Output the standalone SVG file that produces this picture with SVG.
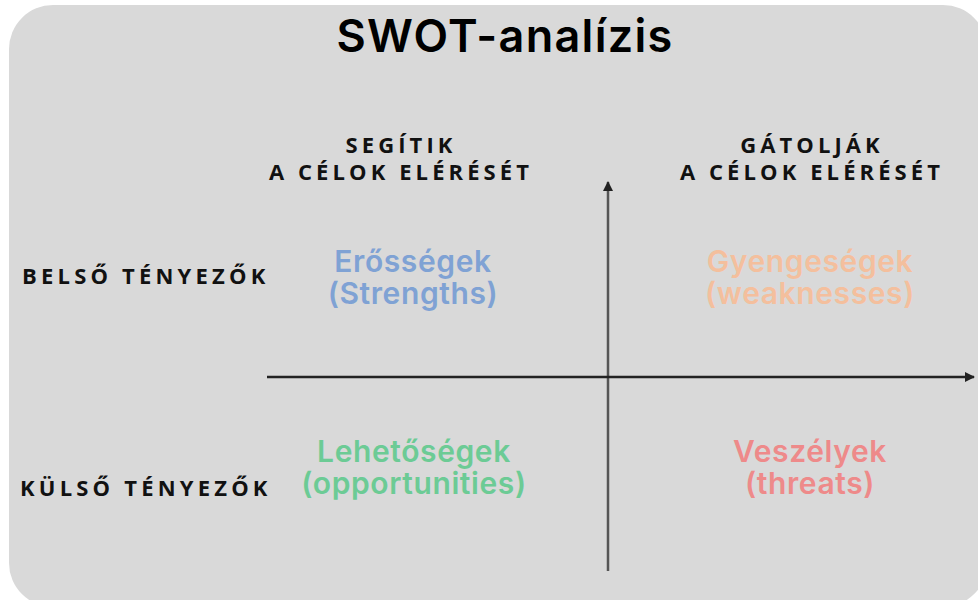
<svg xmlns="http://www.w3.org/2000/svg" width="978" height="600" viewBox="0 0 978 600">
<style>
.title{font-family:Inter,"Open Sans",sans-serif;font-weight:600;font-size:45px;letter-spacing:1.3px;fill:#000;text-anchor:middle}
.hdr{font-family:"Open Sans","DejaVu Sans",sans-serif;font-weight:700;font-size:22px;letter-spacing:4.1px;fill:#111;text-anchor:middle}
.row{font-family:"Open Sans","DejaVu Sans",sans-serif;font-weight:700;font-size:22px;letter-spacing:4.2px;fill:#111}
.q{font-family:Inter,"Open Sans",sans-serif;font-weight:600;font-size:30px;letter-spacing:0.6px;text-anchor:middle}
</style>
<defs>
<marker id="ah" viewBox="0 0 10 10" refX="9" refY="5" markerWidth="4" markerHeight="4" orient="auto">
<path d="M0,0 L10,5 L0,10 z" fill="#222"/>
</marker>
</defs>
<rect x="0" y="0" width="978" height="600" fill="#ffffff"/>
<rect x="9" y="5" width="978" height="602" rx="44" ry="44" fill="#d9d9d9"/>
<text class="title" x="505" y="52">SWOT-analízis</text>
<g id="col1"><text class="hdr" x="401"><tspan x="401" y="153">SEGÍTIK</tspan><tspan x="401" y="180">A CÉLOK ELÉRÉSÉT</tspan></text></g>
<g id="col2"><text class="hdr" x="812"><tspan x="812" y="153">GÁTOLJÁK</tspan><tspan x="812" y="180">A CÉLOK ELÉRÉSÉT</tspan></text></g>
<g id="row1"><text class="row" x="22" y="284">BELSŐ TÉNYEZŐK</text></g>
<g id="row2"><text class="row" x="20" y="496">KÜLSŐ TÉNYEZŐK</text></g>
<g id="connectors">
<line x1="608" y1="571" x2="608" y2="182" stroke="#555" stroke-width="2.5" marker-end="url(#ah)"/>
<line x1="267" y1="377" x2="974" y2="377" stroke="#222" stroke-width="2.5" marker-end="url(#ah)"/>
</g>
<g id="strengths"><text class="q" fill="#7fa2d4"><tspan x="413" y="272">Erősségek</tspan><tspan x="413" y="304">(Strengths)</tspan></text></g>
<g id="weaknesses"><text class="q" fill="#f4bf9d"><tspan x="810" y="272">Gyengeségek</tspan><tspan x="810" y="304">(weaknesses)</tspan></text></g>
<g id="opportunities"><text class="q" fill="#6ccb95"><tspan x="414" y="462">Lehetőségek</tspan><tspan x="414" y="494">(opportunities)</tspan></text></g>
<g id="threats"><text class="q" fill="#ee8a8a"><tspan x="810" y="462">Veszélyek</tspan><tspan x="810" y="494">(threats)</tspan></text></g>
</svg>
